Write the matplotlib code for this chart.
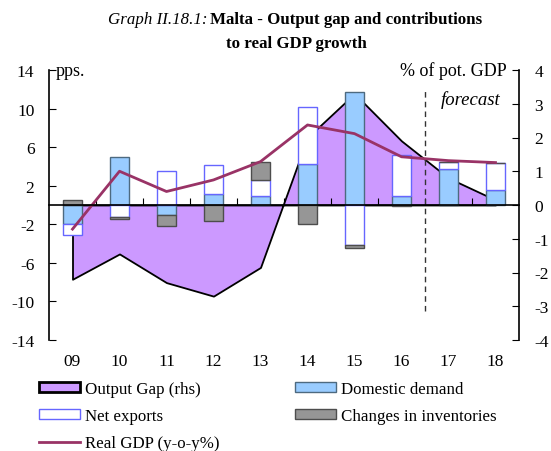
import matplotlib
matplotlib.use("Agg")
import matplotlib.pyplot as plt
import numpy as np
from matplotlib.patches import Patch
from matplotlib.lines import Line2D
from matplotlib.transforms import blended_transform_factory

plt.rcParams['font.family'] = ['Liberation Serif', 'DejaVu Serif']

years = ['09', '10', '11', '12', '13', '14', '15', '16', '17', '18']
domestic_demand = [-1.95, 5.0, -1.0, 1.15, 0.95, 4.25, 11.75, 0.95, 3.75, 1.6]
net_exports = [-1.15, -1.25, 3.5, 3.0, 1.6, 5.9, -4.1, 4.25, 0.75, 2.75]
inventories = [0.55, -0.25, -1.15, -1.65, 1.9, -1.95, -0.35, -0.15, 0.0, 0.0]
real_gdp = [-2.5, 3.5, 1.4, 2.6, 4.5, 8.3, 7.4, 5.0, 4.6, 4.4]
output_gap = [-2.2, -1.45, -2.3, -2.7, -1.85, 2.0, 3.3, 1.9, 0.8, 0.15]
left_ticks = [-14, -10, -6, -2, 2, 6, 10, 14]
right_ticks = [-4, -3, -2, -1, 0, 1, 2, 3, 4]

C_GAP = '#cc99ff'
C_DD = '#99ccff'
C_DD_EDGE = '#4d6a80'
C_NX_EDGE = '#6666ff'
C_INV = '#969696'
C_INV_EDGE = '#4d4d4d'
C_GDP = '#993366'

W, H = 551, 452
fig = plt.figure(figsize=(W / 100, H / 100), dpi=100)
l, r, t, b = 49, 519, 71, 341
ax = fig.add_axes([l / W, 1 - b / H, (r - l) / W, (b - t) / H])
ax2 = ax.twinx()
ax.set_zorder(ax2.get_zorder() + 1)
ax.patch.set_visible(False)

x = np.arange(len(years))

# output gap area (rhs)
ax2.fill_between(x, 0, output_gap, facecolor=C_GAP, edgecolor='black', linewidth=1.3)
ax2.set_ylim(-4, 4)
ax2.set_yticks(right_ticks)
ax2.set_yticklabels([str(v) for v in right_ticks])
ax2.tick_params(axis='y', direction='in', length=5, labelsize=12.5, pad=11)
for s in ['top', 'left', 'bottom']:
    ax2.spines[s].set_visible(False)
ax2.spines['right'].set_linewidth(1.2)

# stacked bars
series = [
    (domestic_demand, dict(facecolor=C_DD, edgecolor=C_DD_EDGE)),
    (net_exports, dict(facecolor='white', edgecolor=C_NX_EDGE)),
    (inventories, dict(facecolor=C_INV, edgecolor=C_INV_EDGE)),
]
pos_base = np.zeros(len(x))
neg_base = np.zeros(len(x))
for vals, style in series:
    vals = np.array(vals)
    bottoms = np.where(vals >= 0, pos_base, neg_base)
    ax.bar(x, vals, bottom=bottoms, width=0.4, linewidth=1.0, **style)
    pos_base = pos_base + np.where(vals > 0, vals, 0)
    neg_base = neg_base + np.where(vals < 0, vals, 0)

ax.plot(x, real_gdp, color=C_GDP, linewidth=2.0, zorder=4)

ax.vlines(7.5, -10.98, 11.87, colors='#333333', linestyles=(0, (4, 3)), linewidth=1.0, zorder=5)

ax.set_xlim(-0.5, len(x) - 0.5)
ax2.set_xlim(-0.5, len(x) - 0.5)
ax.set_ylim(-14, 14)
ax.set_yticks(left_ticks)
ax.set_yticklabels([str(v) for v in left_ticks])
ax.tick_params(axis='y', direction='in', length=5, labelsize=12.5, pad=10.5)
for s in ['top', 'right']:
    ax.spines[s].set_visible(False)
ax.spines['left'].set_linewidth(1.2)
ax.spines['bottom'].set_position(('data', 0))
ax.spines['bottom'].set_linewidth(1.2)
ax.spines['bottom'].set_zorder(6)
ax.set_xticks(np.arange(0.5, len(x) - 1, 1.0))
ax.set_xticklabels([])
ax.tick_params(axis='x', direction='in', length=5, width=0.8)

trans = blended_transform_factory(ax.transData, ax.transAxes)
for i, lab in enumerate(years):
    ax.text(i, -0.078, lab, transform=trans, ha='center', va='center', fontsize=12.5)

ax.text(0.014, 1.0, 'pps.', transform=ax.transAxes, ha='left', va='center', fontsize=13)
ax.text(0.974, 1.0, '% of pot. GDP', transform=ax.transAxes, ha='right', va='center', fontsize=13)
ax.text(0.961, 0.893, 'forecast', transform=ax.transAxes, ha='right', va='center',
        fontsize=13.5, style='italic')

# title
fig.text(207 / W, 1 - 20 / H, 'Graph II.18.1:', ha='right', va='center', fontsize=12.2, style='italic')
fig.text(210 / W, 1 - 20 / H, 'Malta - Output gap and contributions', ha='left', va='center',
         fontsize=12.2, weight='bold')
fig.text(296 / W, 1 - 44 / H, 'to real GDP growth', ha='center', va='center', fontsize=12.2, weight='bold')

# legends
h_gap = Patch(facecolor=C_GAP, edgecolor='black', linewidth=2.0)
h_nx = Patch(facecolor='white', edgecolor=C_NX_EDGE, linewidth=1.0)
h_gdp = Line2D([], [], color=C_GDP, linewidth=2.0)
h_dd = Patch(facecolor=C_DD, edgecolor=C_DD_EDGE, linewidth=1.0)
h_inv = Patch(facecolor=C_INV, edgecolor=C_INV_EDGE, linewidth=1.0)
common = dict(loc='upper left', frameon=False, fontsize=12.2, handlelength=2.4, handleheight=0.45,
              handletextpad=0.3, labelspacing=0.65, borderpad=0, borderaxespad=0)
fig.legend([h_gap, h_nx, h_gdp], ['Output Gap (rhs)', 'Net exports', 'Real GDP (y-o-y%)'],
           bbox_to_anchor=(39 / W, 1 - 382 / H), **common)
fig.legend([h_dd, h_inv], ['Domestic demand', 'Changes in inventories'],
           bbox_to_anchor=(295 / W, 1 - 382 / H), **common)

fig.savefig('out.png', dpi=100)
